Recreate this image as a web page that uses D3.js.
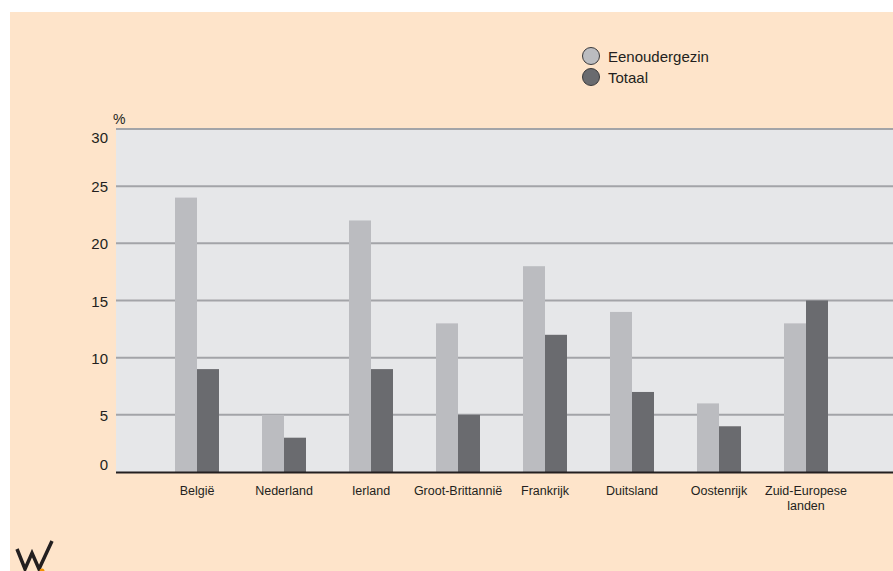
<!DOCTYPE html>
<html>
<head>
<meta charset="utf-8">
<script src="https://cdn.jsdelivr.net/npm/d3@7"></script>
<style>
  body { margin: 0; background: #fff; }
  svg { display: block; font-family: "Liberation Sans", Arial, sans-serif; }
</style>
</head>
<body>
<svg id="chart"></svg>
<script>
// data
var countries = ["België", "Nederland", "Ierland", "Groot-Brittannië", "Frankrijk", "Duitsland", "Oostenrijk", "Zuid-Europese landen"];
var eenouder = [24, 5, 22, 13, 18, 14, 6, 13];
var totaal = [9, 3, 9, 5, 12, 7, 4, 15];
var seriesNames = ["Eenoudergezin", "Totaal"];
var yTicks = [0, 5, 10, 15, 20, 25, 30];

var width = 893, height = 571;
var plot = { left: 116, right: 893, top: 129, bottom: 472 };
var colors = ["#bbbcc0", "#6a6b6f"];

var svg = d3.select("#chart").attr("width", width).attr("height", height);

// background
svg.append("rect").attr("x", 10).attr("y", 12).attr("width", width - 10).attr("height", height - 12)
  .attr("fill", "#fee4ca");

svg.append("rect").attr("x", plot.left).attr("y", plot.top)
  .attr("width", plot.right - plot.left).attr("height", plot.bottom - plot.top)
  .attr("fill", "#e6e7e9");

// scales
var x = d3.scaleBand().domain(countries).range([132, 871]).padding(43 / 87);
var xs = d3.scaleBand().domain(seriesNames).range([0, x.bandwidth()]);
var y = d3.scaleLinear().domain([0, 30]).range([plot.bottom, plot.top]);

// gridlines
svg.append("g").selectAll("line")
  .data(yTicks.filter(d => d > 0))
  .enter().append("line")
  .attr("x1", plot.left).attr("x2", plot.right)
  .attr("y1", d => y(d)).attr("y2", d => y(d))
  .attr("stroke", "#a3a4a8").attr("stroke-width", 2);

// y labels (end labels sit a little inside the frame)
svg.append("g").selectAll("text")
  .data(yTicks)
  .enter().append("text")
  .attr("x", 108)
  .attr("y", d => y(d) + 6 + (d === 30 ? 8 : d === 0 ? -8 : 0))
  .attr("text-anchor", "end")
  .style("font-size", "15px").attr("fill", "#231f20")
  .text(d => d);

svg.append("text").attr("x", 113).attr("y", 124)
  .style("font-size", "14px").attr("fill", "#231f20").text("%");

// bars
var data = countries.map((c, i) => ({ country: c, values: [eenouder[i], totaal[i]] }));

var groups = svg.append("g").selectAll("g")
  .data(data)
  .enter().append("g")
  .attr("transform", d => "translate(" + x(d.country) + ",0)");

groups.selectAll("rect")
  .data(d => d.values.map((v, j) => ({ key: seriesNames[j], value: v, j: j })))
  .enter().append("rect")
  .attr("x", d => xs(d.key))
  .attr("y", d => y(d.value))
  .attr("width", xs.bandwidth())
  .attr("height", d => plot.bottom - y(d.value))
  .attr("fill", d => colors[d.j]);

// baseline
svg.append("line").attr("x1", plot.left).attr("x2", plot.right)
  .attr("y1", plot.bottom + 0.5).attr("y2", plot.bottom + 0.5)
  .attr("stroke", "#231f20").attr("stroke-width", 2);

// x labels
svg.append("g").selectAll("text")
  .data(countries)
  .enter().append("text")
  .attr("x", d => x(d) + x.bandwidth() / 2)
  .attr("y", 495)
  .attr("text-anchor", "middle")
  .style("font-size", "12.5px").attr("fill", "#231f20")
  .each(function(d) {
    var t = d3.select(this);
    var parts = d === "Zuid-Europese landen" ? ["Zuid-Europese", "landen"] : [d];
    parts.forEach((p, k) => {
      t.append("tspan").attr("x", x(d) + x.bandwidth() / 2).attr("dy", k ? 15 : 0).text(p);
    });
  });

// legend
var legend = svg.append("g").selectAll("g")
  .data(seriesNames)
  .enter().append("g")
  .attr("transform", (d, i) => "translate(591," + (56 + i * 21) + ")");

legend.append("circle").attr("r", 8.5)
  .attr("fill", (d, i) => colors[i])
  .attr("stroke", "#3a3a3c").attr("stroke-width", 1);

legend.append("text").attr("x", 17).attr("y", 6)
  .style("font-size", "15px").attr("fill", "#231f20")
  .text(d => d);

// logo
svg.append("path")
  .attr("d", "M17,549 L25,569 L32,553 L39,569 L52,541")
  .attr("fill", "none").attr("stroke", "#231f20").attr("stroke-width", 3.5)
  .attr("stroke-linejoin", "miter");
svg.append("circle").attr("cx", 42).attr("cy", 571).attr("r", 2.5).attr("fill", "#f39200");
</script>
</body>
</html>
